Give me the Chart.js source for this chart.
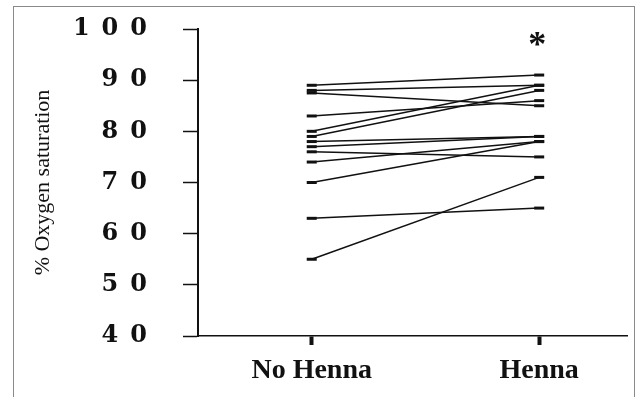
<!DOCTYPE html>
<html>
<head>
<meta charset="utf-8">
<script src="https://cdn.jsdelivr.net/npm/chart.js@4"></script>
<style>
  body { margin: 0; background: #fff; }
  #wrap { position: relative; width: 635px; height: 397px; }
  #frame { position: absolute; left: 13px; top: 6px; width: 620px; height: 400px;
           border-left: 1px solid #8a8a8a; border-top: 1px solid #8a8a8a; border-right: 1px solid #8a8a8a; }
  canvas { position: absolute; left: 0; top: 0; }
</style>
</head>
<body>
<div id="wrap">
  <div id="frame"></div>
  <canvas id="henaChart" width="635" height="397"></canvas>
</div>
<script>
// condições (eixo X)
const groups = ['No Henna', 'Henna'];
// saturação por indivíduo, antes e depois
const noHenna = [89, 88, 87.5, 83, 80, 79, 78, 77, 76, 74, 70, 63, 55];
const henna   = [91, 89, 85,   86, 89, 88, 79, 79, 75, 78, 78, 65, 71];
const yTicks = [40, 50, 60, 70, 80, 90, 100];

const datasets = noHenna.map((v, i) => ({
  data: [{ x: 0, y: v }, { x: 1, y: henna[i] }],
  borderColor: '#111',
  borderWidth: 1.5,
  pointStyle: 'line',
  pointRadius: 5,
  pointBorderWidth: 3,
  pointBorderColor: '#111',
  fill: false
}));

// asterisco sobre o grupo Henna
const starPlugin = {
  id: 'star',
  afterDraw(chart) {
    const { ctx, scales } = chart;
    ctx.save();
    ctx.font = 'bold 36px "Liberation Serif"';
    ctx.fillStyle = '#111';
    ctx.textAlign = 'center';
    ctx.textBaseline = 'middle';
    ctx.fillText('*', scales.x.getPixelForValue(1) - 2, scales.y.getPixelForValue(96.6));
    ctx.restore();
  }
};

new Chart(document.getElementById('henaChart'), {
  type: 'line',
  data: { datasets: datasets },
  plugins: [starPlugin],
  options: {
    responsive: false,
    animation: false,
    layout: { padding: { top: 29, right: 0, left: 0, bottom: 0 } },
    plugins: { legend: { display: false }, tooltip: { enabled: false } },
    scales: {
      x: {
        type: 'linear',
        min: -0.5,
        max: 1.386,
        afterBuildTicks: s => { s.ticks = [{ value: 0 }, { value: 1 }]; },
        afterFit: s => { s.height = 61; s.paddingLeft = 0; s.paddingRight = 0; },
        border: { color: '#111', width: 1.5 },
        grid: { drawOnChartArea: false, tickLength: 9, tickWidth: 4, tickColor: '#111' },
        ticks: {
          color: '#111',
          padding: 9,
          font: { family: 'Liberation Serif', size: 28, weight: 'bold' },
          callback: v => groups[v]
        }
      },
      y: {
        min: 40,
        max: 100,
        afterBuildTicks: s => { s.ticks = yTicks.map(v => ({ value: v })); },
        afterFit: s => { s.width = 198; s.paddingTop = 0; s.paddingBottom = 0; },
        border: { color: '#111', width: 2 },
        grid: { drawOnChartArea: false, tickLength: 15, tickWidth: 1.5, tickColor: '#111' },
        title: {
          display: true,
          text: '% Oxygen saturation',
          color: '#111',
          padding: { top: 30, bottom: 0 },
          font: { family: 'Liberation Serif', size: 22 }
        },
        ticks: {
          color: '#111',
          padding: 36,
          font: { family: 'DejaVu Serif', size: 24, weight: 'bold' },
          callback: v => String(v).split('').join('\u2002')
        }
      }
    }
  }
});
</script>
</body>
</html>
